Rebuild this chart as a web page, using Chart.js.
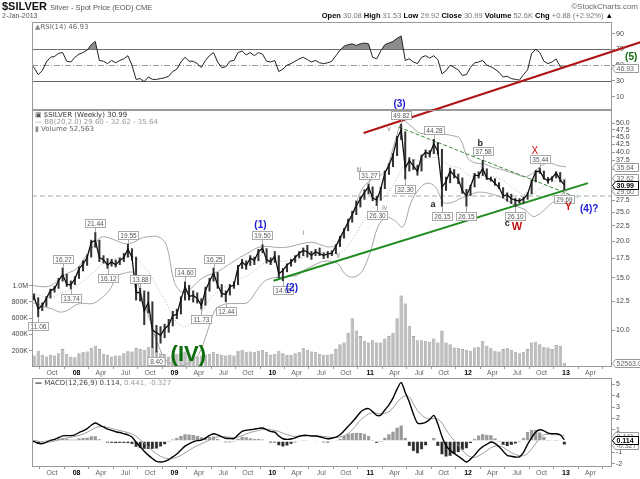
<!DOCTYPE html>
<html>
<head>
<meta charset="utf-8">
<title>$SILVER Weekly</title>
<script src="https://cdn.jsdelivr.net/npm/chart.js@4.4.1/dist/chart.umd.min.js"></script>
<style>
  html, body { margin: 0; padding: 0; background: #fff; }
  #wrap { position: relative; width: 640px; height: 479px; overflow: hidden; background: #fff; }
  canvas { position: absolute; left: 0; }
  #rsiChart { top: 0; z-index: 1; }
  #mainChart { top: 0; z-index: 2; }
  #macdChart { top: 377px; z-index: 1; }
  .txt { position: absolute; z-index: 3; white-space: nowrap; font-family: "DejaVu Sans", sans-serif; font-size: 7px; line-height: 8px; color: #555; }
  .hdr { font-family: "Liberation Sans", Arial, sans-serif; }
</style>
</head>
<body>
<div id="wrap">
  <canvas id="rsiChart" width="640" height="110"></canvas>
  <canvas id="mainChart" width="640" height="377"></canvas>
  <canvas id="macdChart" width="640" height="102"></canvas>

  <div class="txt hdr" style="left:2px;top:0px;font-size:11px;line-height:13px;color:#111;font-weight:bold;">$SILVER <span style="font-size:7.5px;font-weight:normal;color:#555;">Silver - Spot Price (EOD) CME</span></div>
  <div class="txt hdr" style="left:2px;top:12px;color:#555;">2-Jan-2013</div>
  <div class="txt hdr" style="right:2px;top:3px;font-size:8px;color:#666;">©StockCharts.com</div>
  <div class="txt hdr" style="right:27px;top:12px;font-size:7.5px;color:#777;"><b style="color:#000">Open</b> 30.08 <b style="color:#000">High</b> 31.53 <b style="color:#000">Low</b> 29.92 <b style="color:#000">Close</b> 30.99 <b style="color:#000">Volume</b> 52.6K <b style="color:#000">Chg</b> +0.88 (+2.92%) <span style="color:#000">&#9650;</span></div>

  <div class="txt" style="left:35px;top:23px;color:#666;"><span style="color:#888">&#9650;</span>RSI(14) 46.93</div>
  <div class="txt" style="left:35px;top:111px;color:#333;"><span style="color:#555">&#9635;</span> $SILVER (Weekly) 30.99</div>
  <div class="txt" style="left:35px;top:118px;color:#999;">&#8212; BB(20,2.0) 29.60 - 32.62 - 35.64</div>
  <div class="txt" style="left:35px;top:125px;color:#666;"><span style="color:#888">&#9646;</span> Volume 52,563</div>
  <div class="txt" style="left:35px;top:379px;color:#444;"><b style="color:#000">&#8212;</b> MACD(12,26,9) 0.114, <span style="color:#999">0.441, -0.327</span></div>
</div>

<script>
// months counted from Jan 2007; the weekly chart is read every half month
const startMonth = 6.3;

const closes = [
  13.1, 12.9, 11.8, 12.1, 12.8, 13.6, 13.8, 14.7, 15.4, 14.3,
  14.2, 14.9, 16.1, 16.7, 17.6, 19.8, 20.1, 17.6, 17.3, 16.6,
  17.0, 16.6, 17.2, 17.6, 18.8, 17.6, 13.4, 13.4, 11.6, 12.4,
  10.0, 9.8, 9.6, 10.1, 10.4, 11.2, 11.3, 12.7, 14.0, 13.0,
  13.1, 12.8, 12.1, 13.6, 14.6, 15.6, 14.2, 13.3, 13.2, 14.0,
  14.2, 16.3, 17.0, 16.5, 17.5, 17.2, 18.4, 18.9, 17.3, 17.0,
  17.8, 15.5, 15.9, 16.6, 17.0, 17.6, 18.2, 18.6, 18.4, 17.9,
  18.4, 18.1, 17.9, 18.1, 18.2, 19.2, 20.5, 21.8, 23.2, 24.6,
  26.3, 27.8, 29.2, 30.5, 28.0, 27.5, 30.0, 34.0, 36.0, 39.0,
  44.5, 47.5, 35.3, 37.4, 35.9, 34.4, 38.6, 40.0, 39.4, 42.6,
  40.3, 30.4, 31.8, 34.5, 33.4, 32.4, 29.6, 28.4, 30.6, 33.4,
  33.3, 35.2, 32.6, 32.4, 31.3, 30.4, 28.4, 28.7, 27.8, 27.5,
  27.3, 27.8, 28.8, 31.8, 34.3, 34.5, 32.6, 32.0, 32.7, 34.0,
  32.2, 30.99
];

const lows = [
  12.6, 12.6, 11.06, 11.6, 12.0, 12.8, 13.4, 13.8, 14.6, 14.0,
  13.74, 14.2, 14.9, 15.8, 16.5, 17.6, 19.0, 17.0, 16.8, 16.12,
  16.4, 16.3, 16.6, 17.0, 17.6, 17.2, 12.6, 12.5, 10.4, 11.4,
  8.7, 8.40, 9.0, 9.4, 9.8, 10.3, 10.9, 11.3, 12.6, 12.6,
  12.4, 12.3, 11.73, 12.1, 13.5, 14.6, 13.8, 12.9, 12.44, 13.1,
  13.8, 14.2, 16.1, 16.0, 16.5, 16.6, 17.1, 18.2, 16.8, 16.6,
  16.9, 15.0, 14.65, 15.7, 16.4, 16.9, 17.5, 17.8, 17.6, 17.3,
  17.8, 17.8, 17.4, 17.5, 17.8, 18.1, 19.1, 20.4, 21.6, 23.1,
  24.5, 26.0, 27.6, 28.8, 27.3, 26.30, 27.4, 30.0, 33.5, 35.6,
  38.8, 44.0, 32.30, 34.4, 34.8, 33.3, 34.4, 38.2, 38.4, 39.4,
  39.2, 26.15, 29.6, 31.4, 32.6, 31.2, 28.9, 26.15, 28.4, 30.4,
  32.6, 33.2, 32.2, 31.8, 30.8, 30.0, 27.9, 27.2, 26.7, 26.10,
  26.8, 26.8, 27.6, 28.8, 31.6, 33.8, 32.3, 31.3, 31.8, 32.6,
  31.6, 29.69
];

const highs = [
  13.4, 13.3, 12.9, 12.4, 13.0, 13.8, 14.1, 15.0, 16.27, 15.5,
  14.7, 15.2, 16.4, 17.2, 18.0, 20.2, 21.44, 20.2, 17.9, 17.5,
  17.4, 17.3, 17.6, 18.2, 19.55, 18.9, 17.7, 13.88, 13.6, 13.5,
  12.5, 10.4, 10.3, 10.5, 10.9, 11.6, 11.8, 13.0, 14.60, 14.2,
  13.6, 13.4, 12.8, 14.0, 15.0, 16.25, 15.7, 14.3, 13.6, 14.3,
  14.6, 16.6, 17.4, 17.2, 17.9, 17.7, 18.8, 19.50, 18.9, 17.6,
  18.5, 17.9, 16.2, 16.8, 17.4, 17.9, 18.5, 19.0, 19.4, 18.5,
  18.8, 19.0, 18.3, 18.5, 18.6, 19.5, 20.8, 22.1, 23.8, 25.3,
  27.4, 28.3, 29.9, 31.27, 30.6, 28.4, 30.5, 34.6, 36.6, 39.6,
  45.3, 49.82, 47.0, 38.4, 37.8, 36.2, 39.2, 40.8, 40.6, 44.28,
  43.2, 41.0, 33.0, 35.4, 35.0, 33.8, 32.8, 30.0, 31.0, 34.0,
  34.4, 37.58, 35.2, 33.0, 32.6, 31.6, 30.4, 29.2, 28.9, 28.0,
  27.9, 28.2, 29.2, 32.3, 34.8, 35.44, 34.6, 32.9, 33.1, 34.4,
  34.2, 32.3
];

const volumesK = [
  120, 140, 200, 150, 130, 150, 140, 170, 220, 160,
  130, 120, 170, 180, 190, 230, 260, 220, 160, 150,
  130, 140, 140, 170, 200, 190, 240, 220, 210, 250,
  240, 200, 170, 160, 130, 140, 160, 170, 190, 160,
  150, 130, 140, 150, 160, 180, 160, 150, 140, 150,
  140, 200, 210, 180, 190, 180, 200, 210, 180, 150,
  160, 200, 170, 150, 150, 170, 180, 230, 210, 190,
  180, 160, 150, 150, 160, 220, 280, 300, 420, 600,
  450, 380, 320, 300, 330, 300, 300, 350, 380, 420,
  600, 880, 780, 500, 380, 330, 330, 320, 310, 350,
  300, 450, 300, 280, 240, 230, 220, 210, 200, 240,
  250, 320, 260, 230, 200, 190, 220, 230, 210, 180,
  170, 180, 220, 300, 310, 280, 250, 240, 220, 270,
  260, 53
];

const rsi14 = [
  52, 47, 38, 43, 54, 60, 61, 65, 66, 55,
  54, 60, 64, 66, 69, 76, 80, 56, 55, 52,
  56, 53, 56, 58, 62, 50, 32, 33, 29, 35,
  32, 32, 33, 34, 36, 42, 45, 54, 60, 55,
  55, 52, 47, 56, 62, 66, 54, 47, 48, 55,
  56, 66, 68, 63, 66, 62, 66, 64, 55, 54,
  56, 42, 45, 50, 52, 55, 58, 60, 57, 54,
  56, 53, 52, 53, 55, 62, 69, 74, 76, 77,
  75, 77, 78, 77, 60, 58, 68, 76, 78, 80,
  84, 87, 56, 58, 54, 52, 60, 62, 59, 62,
  57, 39, 43, 50, 47, 44, 37, 38, 47, 53,
  54, 56, 50, 48, 45, 41, 35, 36, 33, 32,
  31, 38, 44, 65, 70, 66, 55, 52, 54, 58,
  48, 46.93
];

const macdLine = [
  0.05, -0.05, -0.20, -0.23, -0.10, 0.05, 0.15, 0.30, 0.45, 0.48,
  0.48, 0.55, 0.75, 0.90, 1.10, 1.40, 1.60, 1.42, 1.25, 1.05,
  0.95, 0.82, 0.75, 0.65, 0.55, 0.35, -0.10, -0.50, -0.90, -1.25,
  -1.55, -1.80, -1.86, -1.80, -1.65, -1.40, -1.15, -0.80, -0.45, -0.25,
  -0.07, 0.03, 0.08, 0.25, 0.50, 0.65, 0.55, 0.38, 0.25, 0.22,
  0.22, 0.55, 0.85, 0.95, 1.00, 1.05, 1.12, 1.15, 1.00, 0.85,
  0.78, 0.45, 0.20, 0.15, 0.18, 0.28, 0.42, 0.50, 0.50, 0.45,
  0.44, 0.38, 0.28, 0.20, 0.25, 0.35, 0.55, 0.90, 1.30, 1.68,
  2.10, 2.55, 2.80, 2.87, 2.60, 2.28, 2.30, 2.75, 3.20, 3.80,
  4.60, 5.17, 4.30, 3.45, 2.40, 1.60, 1.55, 1.65, 1.90, 2.27,
  1.50, 0.40, -0.40, -0.82, -1.10, -1.35, -1.60, -1.86, -1.60, -1.25,
  -0.82, -0.50, -0.30, -0.09, -0.20, -0.50, -0.90, -1.27, -1.35, -1.42,
  -1.40, -1.00, -0.30, 0.30, 0.80, 1.00, 0.90, 0.70, 0.65, 0.65,
  0.55, 0.114
];

const macdSignal = [
  0.10, 0.06, -0.02, -0.09, -0.11, -0.07, 0.00, 0.08, 0.18, 0.27,
  0.34, 0.41, 0.50, 0.62, 0.78, 0.98, 1.18, 1.27, 1.28, 1.21,
  1.12, 1.02, 0.93, 0.84, 0.75, 0.63, 0.42, 0.13, -0.20, -0.52,
  -0.84, -1.12, -1.35, -1.50, -1.56, -1.53, -1.44, -1.27, -1.05, -0.82,
  -0.60, -0.41, -0.25, -0.09, 0.09, 0.26, 0.36, 0.40, 0.38, 0.34,
  0.30, 0.35, 0.48, 0.62, 0.75, 0.85, 0.94, 1.02, 1.04, 1.00,
  0.94, 0.84, 0.70, 0.56, 0.46, 0.40, 0.39, 0.41, 0.44, 0.45,
  0.45, 0.43, 0.40, 0.36, 0.32, 0.32, 0.36, 0.45, 0.65, 1.00,
  1.40, 1.85, 2.15, 2.40, 2.50, 2.45, 2.40, 2.45, 2.60, 2.95,
  3.40, 3.80, 4.00, 3.90, 3.30, 2.70, 2.30, 2.05, 1.95, 2.00,
  1.95, 1.60, 1.00, 0.50, 0.05, -0.35, -0.80, -1.20, -1.40, -1.45,
  -1.30, -1.10, -0.85, -0.60, -0.45, -0.42, -0.55, -0.80, -1.00, -1.18,
  -1.30, -1.30, -1.10, -0.70, -0.20, 0.25, 0.55, 0.60, 0.58, 0.55,
  0.52, 0.441
];

const macdHist = [
  -0.05, -0.11, -0.18, -0.14, 0.01, 0.12, 0.15, 0.22, 0.27, 0.21,
  0.14, 0.14, 0.25, 0.28, 0.32, 0.42, 0.42, 0.15, -0.03, -0.16,
  -0.17, -0.20, -0.18, -0.19, -0.20, -0.28, -0.52, -0.63, -0.70, -0.73,
  -0.71, -0.68, -0.51, -0.30, -0.09, 0.13, 0.29, 0.47, 0.60, 0.57,
  0.53, 0.44, 0.33, 0.34, 0.41, 0.39, 0.19, -0.02, -0.13, -0.12,
  -0.08, 0.20, 0.37, 0.33, 0.25, 0.20, 0.18, 0.13, -0.04, -0.15,
  -0.16, -0.39, -0.50, -0.41, -0.28, -0.12, 0.03, 0.09, 0.06, 0.00,
  -0.01, -0.05, -0.12, -0.16, -0.07, 0.03, 0.19, 0.45, 0.65, 0.68,
  0.70, 0.70, 0.65, 0.47, 0.10, -0.17, -0.10, 0.30, 0.60, 0.85,
  1.20, 1.37, 0.30, -0.45, -0.90, -1.10, -0.75, -0.40, -0.05, 0.27,
  -0.45, -1.20, -1.40, -1.32, -1.15, -1.00, -0.80, -0.66, -0.20, 0.20,
  0.48, 0.60, 0.55, 0.51, 0.25, -0.08, -0.35, -0.47, -0.35, -0.24,
  -0.10, 0.30, 0.80, 1.00, 1.00, 0.75, 0.35, 0.10, 0.07, 0.10,
  0.03, -0.327
];

// Bollinger bands, one reading per month from month 6
const bbStart = 6;
const bbUpper = [
  14.2, 14.1, 14.0, 14.2, 15.0, 15.6, 16.1, 17.5, 19.1, 20.6,
  20.5, 20.0, 19.6, 19.8, 20.5, 20.7, 20.7, 19.5, 14.5, 13.4,
  13.8, 14.7, 15.3, 15.6, 16.2, 16.9, 17.6, 18.2, 18.9, 19.2,
  19.1, 19.0, 19.1, 19.4, 19.7, 19.8, 19.4, 19.1, 19.5, 22.0,
  25.5, 30.0, 32.0, 33.0, 35.0, 43.0, 51.0, 49.0, 46.5, 46.0,
  46.0, 46.0, 45.5, 44.5, 38.0, 36.7, 36.5, 35.5, 35.0, 34.3,
  33.6, 33.0, 34.0, 36.0, 36.8, 36.0, 35.64
];
const bbMiddle = [
  13.3, 13.2, 13.0, 12.9, 13.3, 13.6, 14.1, 14.8, 15.6, 16.6,
  17.0, 17.5, 17.6, 17.7, 16.7, 15.5, 13.8, 12.4, 10.9, 10.3,
  10.5, 11.1, 12.3, 13.3, 13.9, 14.3, 14.9, 15.3, 16.1, 16.8,
  17.0, 17.1, 17.1, 17.2, 17.8, 18.1, 18.3, 18.2, 18.1, 18.8,
  20.6, 23.0, 25.2, 27.2, 28.8, 31.5, 35.5, 37.5, 37.6, 38.0,
  38.3, 37.0, 35.8, 35.3, 33.5, 32.8, 33.0, 33.1, 32.4, 31.0,
  29.6, 28.7, 29.0, 30.4, 31.4, 32.1, 32.62
];
const bbLower = [
  12.5, 12.3, 12.0, 11.8, 11.5, 11.7, 12.2, 12.3, 12.3, 12.8,
  13.6, 15.2, 15.6, 15.6, 13.0, 10.8, 8.9, 7.9, 7.6, 7.6,
  7.8, 8.3, 9.8, 11.7, 12.2, 12.3, 12.3, 12.4, 13.5, 14.6,
  15.0, 15.1, 15.2, 15.3, 16.0, 16.5, 17.0, 17.1, 16.8, 15.4,
  15.1, 15.8, 18.3, 22.5, 24.0, 23.5, 22.3, 27.0, 30.0, 31.4,
  30.5, 27.0, 27.0, 27.8, 28.5, 29.2, 29.2, 28.8, 28.2, 27.2,
  26.2, 25.5, 24.2, 25.0, 26.5, 28.0, 29.6
];

// swing high / low callouts: bar index on the half-month grid, value, above (1) or below (-1)
const swingBars = [2, 8, 10, 16, 19, 24, 27, 31, 38, 42, 45, 48, 57,
                   62, 83, 85, 91, 92, 99, 101, 107, 111, 119, 125, 131];
const swingPrices = [11.06, 16.27, 13.74, 21.44, 16.12, 19.55, 13.88, 8.40, 14.60, 11.73, 16.25, 12.44, 19.50,
                     14.65, 31.27, 26.30, 49.82, 32.30, 44.28, 26.15, 26.15, 37.58, 26.10, 35.44, 29.69];
const swingSides = [-1, 1, -1, 1, -1, 1, 1, -1, 1, -1, 1, -1, 1,
                    -1, 1, -1, 1, -1, 1, -1, -1, 1, -1, 1, -1];

const tickMonths = [9, 12, 15, 18, 21, 24, 27, 30, 33, 36, 39, 42, 45, 48, 51, 54, 57, 60, 63, 66, 69, 72, 75];
const tickLabels = ['Oct', '08', 'Apr', 'Jul', 'Oct', '09', 'Apr', 'Jul', 'Oct', '10', 'Apr', 'Jul',
                    'Oct', '11', 'Apr', 'Jul', 'Oct', '12', 'Apr', 'Jul', 'Oct', '13', 'Apr'];
const priceTicks = [10, 12.5, 15, 17.5, 20, 22.5, 25, 27.5, 30, 32.5, 35, 37.5, 40, 42.5, 45, 47.5, 50];
const volumeTicks = [200000, 400000, 600000, 800000, 1000000];
const rsiTicks = [10, 30, 50, 70, 90];
const macdTicks = [-2, -1, 0, 1, 2, 3, 4, 5];

const halfMonths = closes.map((_, i) => startMonth + i / 2);
const bbMonths = bbUpper.map((_, i) => bbStart + i);
const pts = (xs, ys, k = 1) => xs.map((x, i) => ({ x: x, y: ys[i] * k }));

const FONT = '"Liberation Sans", Arial, sans-serif';
Chart.defaults.font.family = FONT;
Chart.defaults.font.size = 7;

const isYear = c => /^\d/.test(tickLabels[c.index] || '');

function timeAxis(h, show) {
  return {
    type: 'linear', min: 6.54, max: 77.65, offset: false, display: show,
    afterBuildTicks: s => { s.ticks = tickMonths.map(v => ({ value: v })); },
    afterFit: s => { s.height = h; s.paddingLeft = 0; s.paddingRight = 0; },
    grid: { drawOnChartArea: false, tickLength: 2, color: '#999' },
    border: { display: false },
    ticks: {
      autoSkip: false, maxRotation: 0, padding: 0,
      callback: (v, i) => tickLabels[i],
      color: c => isYear(c) ? '#000' : '#666',
      font: c => ({ size: 7, weight: isYear(c) ? 'bold' : 'normal' })
    }
  };
}

function sideAxis(pos, w, min, max, list, fmt) {
  return {
    axis: 'y', position: pos, min: min, max: max,
    afterBuildTicks: s => { s.ticks = list.map(v => ({ value: v })); },
    afterFit: s => { s.width = w; s.paddingTop = 0; s.paddingBottom = 0; },
    grid: { drawOnChartArea: false, tickLength: 3, color: '#999' },
    border: { display: false },
    ticks: { autoSkip: false, padding: 1, color: '#444', callback: fmt }
  };
}

const framePlugin = {
  id: 'frame',
  afterDraw(chart) {
    const { ctx, chartArea: a } = chart;
    ctx.save();
    ctx.strokeStyle = '#9a9a9a';
    ctx.lineWidth = 1;
    ctx.strokeRect(Math.round(a.left) + 0.5, Math.round(a.top) + 0.5,
                   Math.round(a.right - a.left) - 1, Math.round(a.bottom - a.top) - 1);
    ctx.restore();
  }
};

const levelPlugin = {
  id: 'levels',
  beforeDatasetsDraw(chart, args, opts) {
    const { ctx, chartArea: a, scales } = chart;
    ctx.save();
    (opts.lines || []).forEach(l => {
      const py = Math.round(scales.y.getPixelForValue(l.value)) + 0.5;
      ctx.strokeStyle = l.color;
      ctx.lineWidth = 1;
      ctx.setLineDash(l.dash || []);
      ctx.beginPath();
      ctx.moveTo(a.left, py);
      ctx.lineTo(a.right, py);
      ctx.stroke();
    });
    ctx.restore();
  }
};

const boxPlugin = {
  id: 'valueBoxes',
  afterDraw(chart, args, opts) {
    const { ctx, chartArea: a } = chart;
    ctx.save();
    ctx.textBaseline = 'middle';
    (opts.boxes || []).forEach(b => {
      const py = Math.round(chart.scales[b.axis].getPixelForValue(b.value)) + 0.5;
      const x0 = Math.round(a.right) + 0.5, w = b.width || 26, h = 8;
      ctx.beginPath();
      ctx.moveTo(x0, py);
      ctx.lineTo(x0 + 3, py - h / 2);
      ctx.lineTo(x0 + w, py - h / 2);
      ctx.lineTo(x0 + w, py + h / 2);
      ctx.lineTo(x0 + 3, py + h / 2);
      ctx.closePath();
      ctx.fillStyle = '#fff';
      ctx.fill();
      ctx.strokeStyle = b.strong ? '#000' : '#999';
      ctx.lineWidth = 1;
      ctx.stroke();
      ctx.font = (b.strong ? 'bold ' : '') + '7px ' + FONT;
      ctx.fillStyle = b.strong ? '#000' : '#666';
      ctx.fillText(b.text, x0 + 4, py + 0.5);
    });
    ctx.restore();
  }
};

const swingPlugin = {
  id: 'swings',
  afterDatasetsDraw(chart) {
    const { ctx, scales } = chart;
    ctx.save();
    ctx.font = '6.5px ' + FONT;
    ctx.textAlign = 'center';
    ctx.textBaseline = 'middle';
    swingPrices.forEach((v, i) => {
      const px = Math.round(scales.x.getPixelForValue(halfMonths[swingBars[i]])) + 0.5;
      const py = scales.price.getPixelForValue(v);
      const up = swingSides[i] > 0;
      const cy = Math.round(py + (up ? -9 : 9)) + 0.5;
      const text = v.toFixed(2);
      const w = Math.round(ctx.measureText(text).width) + 4;
      ctx.strokeStyle = '#aaa';
      ctx.lineWidth = 1;
      ctx.beginPath();
      ctx.moveTo(px, py);
      ctx.lineTo(px, cy + (up ? 4 : -4));
      ctx.stroke();
      ctx.fillStyle = '#fff';
      ctx.fillRect(px - w / 2, cy - 4, w, 8);
      ctx.strokeRect(px - w / 2, cy - 4, w, 8);
      ctx.fillStyle = '#555';
      ctx.fillText(text, px, cy + 0.5);
    });
    ctx.restore();
  }
};

const waveNotes = [
  { t: '(1)', m: 34.55, p: 22.65, c: '#1a1ad8', f: 'bold 10px' },
  { t: '(2)', m: 38.4, p: 13.9, c: '#1a1ad8', f: 'bold 10px' },
  { t: '(3)', m: 51.6, p: 58.1, c: '#1a1ad8', f: 'bold 10px' },
  { t: '(4)?', m: 74.85, p: 25.66, c: '#1a1ad8', f: 'bold 10px' },
  { t: '(5)', m: 80.0, p: 83.8, c: '#0e6e0e', f: 'bold 10px' },
  { t: '(IV)', m: 25.7, p: 8.23, c: '#0e6e0e', f: 'bold 22px' },
  { t: 'i', m: 39.8, p: 21.3, c: '#888', f: '7px' },
  { t: 'ii', m: 44.1, p: 17.8, c: '#888', f: '7px' },
  { t: 'iii', m: 46.6, p: 34.8, c: '#888', f: '7px' },
  { t: 'iv', m: 49.8, p: 25.9, c: '#888', f: '7px' },
  { t: 'v', m: 50.3, p: 47.8, c: '#888', f: '7px' },
  { t: 'a', m: 55.7, p: 26.5, c: '#222', f: 'bold 9px' },
  { t: 'b', m: 61.5, p: 42.9, c: '#222', f: 'bold 9px' },
  { t: 'c', m: 64.8, p: 23.0, c: '#222', f: 'bold 9px' },
  { t: 'W', m: 66.0, p: 22.3, c: '#c41010', f: 'bold 11px' },
  { t: 'X', m: 68.2, p: 40.3, c: '#c41010', f: '10px' },
  { t: 'Y', m: 72.3, p: 26.1, c: '#c41010', f: 'bold 10px' }
];

const wavePlugin = {
  id: 'waves',
  afterDraw(chart) {
    const { ctx, scales } = chart;
    ctx.save();
    ctx.textAlign = 'center';
    ctx.textBaseline = 'middle';
    waveNotes.forEach(n => {
      ctx.font = n.f + ' ' + FONT;
      ctx.fillStyle = n.c;
      ctx.fillText(n.t, scales.x.getPixelForValue(n.m), scales.price.getPixelForValue(n.p));
    });
    ctx.restore();
  }
};

const common = { responsive: false, animation: false, events: [] };
const lineStyle = { pointRadius: 0, borderWidth: 1, fill: false };

// RSI panel
new Chart(document.getElementById('rsiChart'), {
  type: 'line',
  data: {
    datasets: [{
      ...lineStyle, data: pts(halfMonths, rsi14), borderColor: '#222', tension: 0,
      fill: { target: { value: 70 }, above: '#8c8c8c', below: 'rgba(0,0,0,0)' }
    }]
  },
  options: {
    ...common,
    layout: { padding: { top: 22, left: 32, right: 0, bottom: 0 } },
    plugins: {
      legend: { display: false }, tooltip: { enabled: false },
      levels: { lines: [
        { value: 70, color: '#666' }, { value: 30, color: '#666' },
        { value: 50, color: '#999', dash: [6, 2, 1, 2] }
      ] },
      valueBoxes: { boxes: [{ axis: 'y', value: 46.93, text: '46.93' }] }
    },
    scales: {
      x: timeAxis(0, false),
      y: sideAxis('right', 28, -6.8, 104.7, rsiTicks, v => v)
    }
  },
  plugins: [levelPlugin, framePlugin, boxPlugin]
});

// price panel with volume
new Chart(document.getElementById('mainChart'), {
  type: 'line',
  data: {
    datasets: [
      { type: 'bar', yAxisID: 'vol', data: pts(halfMonths, volumesK, 1000), grouped: false,
        backgroundColor: '#bdbdbd', borderColor: '#858585', borderWidth: 0.6,
        barPercentage: 0.8, categoryPercentage: 1, order: 7 },
      { ...lineStyle, yAxisID: 'price', data: pts(bbMonths, bbUpper), borderColor: '#a6a6a6', tension: 0.35, order: 5 },
      { ...lineStyle, yAxisID: 'price', data: pts(bbMonths, bbLower), borderColor: '#a6a6a6', tension: 0.35, order: 5 },
      { ...lineStyle, yAxisID: 'price', data: pts(bbMonths, bbMiddle), borderColor: '#b0b0b0', borderDash: [1, 2], tension: 0.35, order: 5 },
      { ...lineStyle, yAxisID: 'price', data: [{ x: 6.54, y: 28.4 }, { x: 77.65, y: 28.4 }],
        borderColor: '#9db59d', borderDash: [5, 3], order: 4 },
      { ...lineStyle, yAxisID: 'price', data: [{ x: 36.15, y: 14.69 }, { x: 74.7, y: 31.4 }],
        borderColor: '#1f8c1f', borderWidth: 2, order: 3 },
      { ...lineStyle, yAxisID: 'price', data: [{ x: 51.5, y: 48.6 }, { x: 73.5, y: 28.0 }],
        borderColor: '#3c8c3c', borderDash: [4, 2], order: 3 },
      { ...lineStyle, yAxisID: 'price', data: [{ x: 47.2, y: 46.4 }, { x: 81.2, y: 94.2 }],
        borderColor: '#b01414', borderWidth: 2, clip: false, order: 0 },
      { type: 'bar', yAxisID: 'price', grouped: false,
        data: halfMonths.map((m, i) => ({ x: m, y: [lows[i], highs[i]] })),
        backgroundColor: '#333', borderWidth: 0, barPercentage: 0.5, categoryPercentage: 1, order: 2 },
      { ...lineStyle, yAxisID: 'price', data: pts(halfMonths, closes), borderColor: '#111', borderWidth: 1.3, tension: 0, order: 1 }
    ]
  },
  options: {
    ...common,
    layout: { padding: { top: 110, left: 0, right: 0, bottom: 0 } },
    plugins: {
      legend: { display: false }, tooltip: { enabled: false },
      valueBoxes: { boxes: [
        { axis: 'price', value: 35.64, text: '35.64' },
        { axis: 'price', value: 32.62, text: '32.62' },
        { axis: 'price', value: 29.60, text: '29.60' },
        { axis: 'price', value: 30.99, text: '30.99', strong: true },
        { axis: 'vol', value: 52563, text: '52563.0', width: 28 }
      ] }
    },
    scales: {
      x: timeAxis(10, true),
      price: { ...sideAxis('right', 28, 7.5, 55.5, priceTicks, v => Number(v).toFixed(1)), type: 'logarithmic' },
      vol: sideAxis('left', 32, 0, 3163000, volumeTicks,
        v => v >= 1000000 ? (v / 1000000).toFixed(1) + 'M' : (v / 1000) + 'K')
    }
  },
  plugins: [framePlugin, swingPlugin, wavePlugin, boxPlugin]
});

// MACD panel
new Chart(document.getElementById('macdChart'), {
  type: 'line',
  data: {
    datasets: [
      { type: 'bar', data: pts(halfMonths, macdHist),
        backgroundColor: c => (c.raw && c.raw.y < 0) ? '#2b2b2b' : '#9a9a9a',
        borderColor: '#444', borderWidth: 0.4, barPercentage: 0.85, categoryPercentage: 1, order: 3 },
      { ...lineStyle, data: pts(halfMonths, macdSignal), borderColor: '#9a9a9a', tension: 0.3, order: 2 },
      { ...lineStyle, data: pts(halfMonths, macdLine), borderColor: '#000', borderWidth: 1.4, tension: 0.3, order: 1 }
    ]
  },
  options: {
    ...common,
    layout: { padding: { top: 1, left: 32, right: 0, bottom: 0 } },
    plugins: {
      legend: { display: false }, tooltip: { enabled: false },
      valueBoxes: { boxes: [
        { axis: 'y', value: 0.441, text: '0.441' },
        { axis: 'y', value: -0.327, text: '-0.327' },
        { axis: 'y', value: 0.114, text: '0.114', strong: true }
      ] }
    },
    scales: {
      x: timeAxis(12, true),
      y: sideAxis('right', 28, -2.3, 5.58, macdTicks, v => v)
    }
  },
  plugins: [framePlugin, boxPlugin]
});
</script>
</body>
</html>
